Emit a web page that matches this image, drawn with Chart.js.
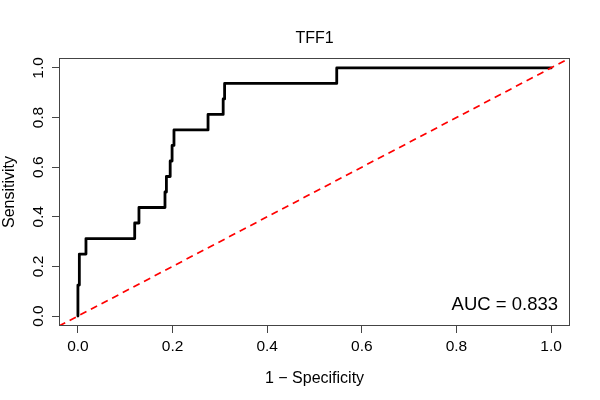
<!DOCTYPE html>
<html><head><meta charset="utf-8">
<script src="https://cdn.jsdelivr.net/npm/chart.js@4/dist/chart.umd.min.js"></script>
<style>html,body{margin:0;padding:0;background:#fff}canvas{display:block}</style>
</head><body>
<div style="width:600px;height:400px"><canvas id="c" width="600" height="400"></canvas></div>
<script>
// ROC curve vertices (1 - specificity, sensitivity)
const fpr = [0, 0, 0.003, 0.003, 0.017, 0.017, 0.120, 0.120, 0.129, 0.129, 0.184, 0.184, 0.187, 0.187, 0.195, 0.195, 0.199, 0.199, 0.203, 0.203, 0.275, 0.275, 0.307, 0.307, 0.310, 0.310, 0.547, 0.547, 1.0];
const tpr = [0, 0.125, 0.125, 0.25, 0.25, 0.3125, 0.3125, 0.375, 0.375, 0.4375, 0.4375, 0.5, 0.5, 0.5625, 0.5625, 0.625, 0.625, 0.6875, 0.6875, 0.75, 0.75, 0.8125, 0.8125, 0.875, 0.875, 0.9375, 0.9375, 1.0, 1.0];
// chance diagonal y = x across the axis range
const axisRange = [-0.04, 1.04];
const xTicks = [0, 0.2, 0.4, 0.6, 0.8, 1.0];
const yTicks = [0, 0.2, 0.4, 0.6, 0.8, 1.0];
const titleText = 'TFF1';
const xLabel = '1 \u2212 Specificity';
const yLabel = 'Sensitivity';
const aucText = 'AUC = 0.833';

const FONT = '"Liberation Sans", Arial, Helvetica, sans-serif';

const rocData = fpr.map((x, i) => ({x: x, y: tpr[i]}));
const diagData = axisRange.map(v => ({x: v, y: v}));

const decor = {
  id: 'decor',
  afterDraw(chart) {
    const ctx = chart.ctx;
    const a = chart.chartArea;
    const ys = chart.scales.y;
    ctx.save();
    // box
    ctx.strokeStyle = '#444';
    ctx.lineWidth = 1;
    ctx.strokeRect(Math.round(a.left) + 0.5, Math.round(a.top) + 0.5, Math.round(a.right - a.left) - 1, Math.round(a.bottom - a.top) - 1);
    ctx.fillStyle = '#000';
    // y tick labels, rotated
    ctx.font = '15.5px ' + FONT;
    ctx.textAlign = 'center';
    ctx.textBaseline = 'alphabetic';
    yTicks.forEach(v => {
      const py = ys.getPixelForValue(v);
      ctx.save();
      ctx.translate(43, py);
      ctx.rotate(-Math.PI / 2);
      ctx.fillText(v.toFixed(1), 0, 0);
      ctx.restore();
    });
    // y axis label
    ctx.font = '16px ' + FONT;
    ctx.save();
    ctx.translate(14, (a.top + a.bottom) / 2);
    ctx.rotate(-Math.PI / 2);
    ctx.fillText(yLabel, 0, 0);
    ctx.restore();
    // x axis label
    const cx = (a.left + a.right) / 2;
    ctx.fillText(xLabel, cx, 383);
    // title
    ctx.fillText(titleText, cx, 43);
    // AUC
    ctx.font = '18.5px ' + FONT;
    ctx.textAlign = 'right';
    ctx.fillText(aucText, 558, 310);
    ctx.restore();
  }
};

const axisCommon = {
  type: 'linear',
  min: axisRange[0],
  max: axisRange[1],
  grid: { display: true, drawOnChartArea: false, drawTicks: true, tickLength: 7, color: '#444', lineWidth: 1 },
  border: { display: false }
};

new Chart(document.getElementById('c'), {
  type: 'line',
  data: {
    datasets: [
      { data: diagData, borderColor: '#ff0000', borderWidth: 1.7, borderDash: [7, 5], pointRadius: 0, fill: false, order: 0 },
      { data: rocData, borderColor: '#000000', borderWidth: 2.8, pointRadius: 0, fill: false, tension: 0, borderJoinStyle: 'round', borderCapStyle: 'round', order: 1 }
    ]
  },
  options: {
    responsive: false,
    animation: false,
    devicePixelRatio: 1,
    layout: { padding: { top: 58, right: 30, bottom: 0, left: 0 } },
    plugins: { legend: { display: false }, tooltip: { enabled: false }, title: { display: false } },
    scales: {
      x: Object.assign({}, axisCommon, {
        position: 'bottom',
        afterBuildTicks: s => { s.ticks = xTicks.map(v => ({value: v})); },
        afterFit: s => { s.height = 74; },
        ticks: { color: '#000', font: { family: FONT, size: 15.5 }, padding: 4, maxRotation: 0, autoSkip: false, callback: v => Number(v).toFixed(1) }
      }),
      y: Object.assign({}, axisCommon, {
        position: 'left',
        afterBuildTicks: s => { s.ticks = yTicks.map(v => ({value: v})); },
        afterFit: s => { s.width = 59; },
        ticks: { display: false }
      })
    }
  },
  plugins: [decor]
});
</script>
</body></html>
